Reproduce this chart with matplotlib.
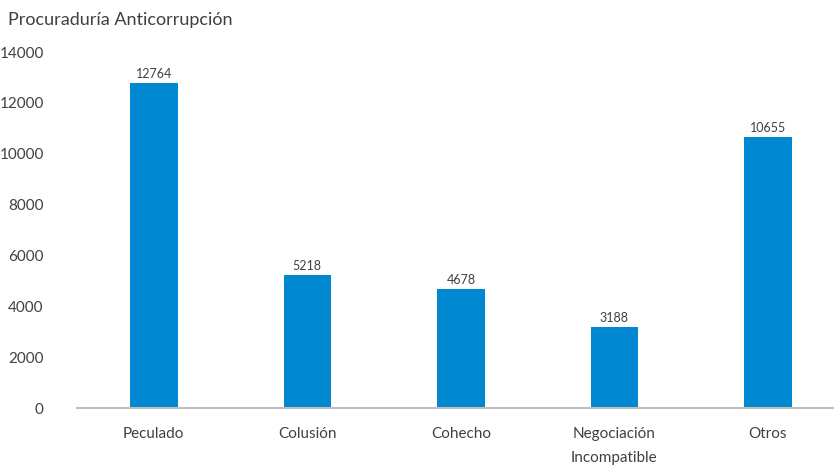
import matplotlib
matplotlib.use("Agg")
import matplotlib.pyplot as plt

categories = ["Peculado", "Colusión", "Cohecho", "Negociación\nIncompatible", "Otros"]
values = [12764, 5218, 4678, 3188, 10655]
yticks = [0, 2000, 4000, 6000, 8000, 10000, 12000, 14000]

BAR_COLOR = "#0088D1"
TEXT_COLOR = "#404040"

plt.rcParams["font.family"] = ["Lato", "DejaVu Sans"]

fig = plt.figure(figsize=(8.34, 4.70), dpi=100)
ax = fig.add_axes([77 / 834, 1 - 408 / 470, 1 - 77 / 834, (408 - 52) / 470])

x = range(len(categories))
ax.bar(x, values, width=0.31, color=BAR_COLOR, zorder=2)

# value labels above each bar
for xi, v in zip(x, values):
    ax.text(xi, v + 120, str(v), ha="center", va="bottom", fontsize=9, color=TEXT_COLOR)

ax.set_xlim(-0.5, 4.43)
ax.set_ylim(0, 14000)
ax.set_yticks(yticks)
ax.set_yticklabels([str(t) for t in yticks], fontsize=11, color=TEXT_COLOR)
ax.set_xticks(list(x))
ax.set_xticklabels(categories, fontsize=11, color=TEXT_COLOR, linespacing=1.9)
ax.tick_params(axis="both", length=0)
ax.tick_params(axis="y", pad=24)
ax.tick_params(axis="x", pad=14)

for side in ["top", "right", "left"]:
    ax.spines[side].set_visible(False)
ax.spines["bottom"].set_color("#BFBFBF")
ax.spines["bottom"].set_linewidth(1.5)

fig.text(8 / 834, 1 - 20 / 470, "Procuraduría Anticorrupción", fontsize=13,
         color=TEXT_COLOR, ha="left", va="center")

fig.savefig("out.png", dpi=100)
